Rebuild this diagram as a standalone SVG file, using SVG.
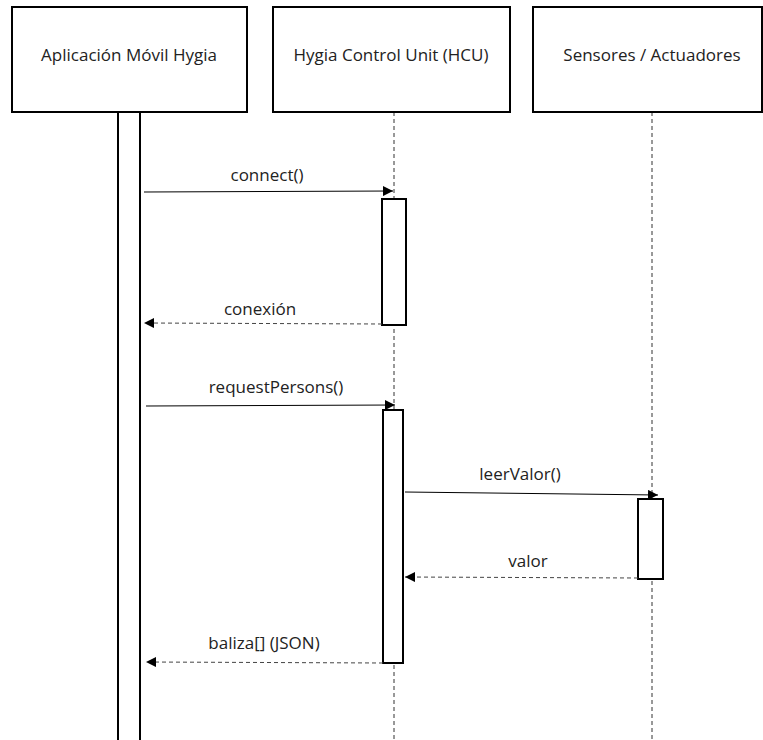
<svg xmlns="http://www.w3.org/2000/svg" width="763" height="740" viewBox="0 0 763 740">
<defs>
<style>
.box{fill:#fff;stroke:#000;stroke-width:2}
.act{fill:#fff;stroke:#000;stroke-width:2}
.life{stroke:#333;stroke-width:1;stroke-dasharray:4 3;fill:none}
.msg{stroke:#000;stroke-width:1;fill:none}
.ret{stroke:#444;stroke-width:1;stroke-dasharray:4 3;fill:none}
text{font-family:"Open Sans","Noto Sans","Liberation Sans",sans-serif;font-size:17px;fill:#222;text-anchor:middle}
</style>
<marker id="ah" viewBox="0 0 10 10" refX="10" refY="5" markerWidth="10" markerHeight="10" markerUnits="userSpaceOnUse" orient="auto">
<path d="M0,0 L10,5 L0,10 Z" fill="#000"/>
</marker>
</defs>
<rect width="763" height="740" fill="#fff"/>
<g id="lifelines">
<line class="life" x1="394" y1="112" x2="394" y2="740"/>
<line class="life" x1="652" y1="112" x2="652" y2="740"/>
</g>
<g id="app">
<rect class="box" x="12" y="7" width="235" height="105"/>
<text x="129" y="61">Aplicación Móvil Hygia</text>
<rect class="act" x="118" y="112" width="22" height="630"/>
</g>
<g id="hcu">
<rect class="box" x="273" y="7" width="237" height="105"/>
<text x="391" y="61">Hygia Control Unit (HCU)</text>
<rect class="act" x="382" y="199" width="24" height="126"/>
<rect class="act" x="383" y="410" width="20" height="253"/>
</g>
<g id="sensores">
<rect class="box" x="533" y="7" width="229" height="105"/>
<text x="652" y="61">Sensores / Actuadores</text>
<rect class="act" x="638" y="499" width="25" height="80"/>
</g>
<g id="connectors">
<line class="msg" x1="144" y1="192" x2="393" y2="191" marker-end="url(#ah)"/>
<text x="267" y="181">connect()</text>
<line class="ret" x1="382" y1="324" x2="144" y2="323" marker-end="url(#ah)"/>
<text x="260" y="315">conexión</text>
<line class="msg" x1="146" y1="406" x2="395" y2="405" marker-end="url(#ah)"/>
<text x="276" y="393">requestPersons()</text>
<line class="msg" x1="405" y1="492" x2="658" y2="495" marker-end="url(#ah)"/>
<text x="520" y="480">leerValor()</text>
<line class="ret" x1="638" y1="578" x2="405" y2="577" marker-end="url(#ah)"/>
<text x="528" y="567">valor</text>
<line class="ret" x1="383" y1="663" x2="146" y2="662" marker-end="url(#ah)"/>
<text x="264" y="649">baliza[] (JSON)</text>
</g>
</svg>
